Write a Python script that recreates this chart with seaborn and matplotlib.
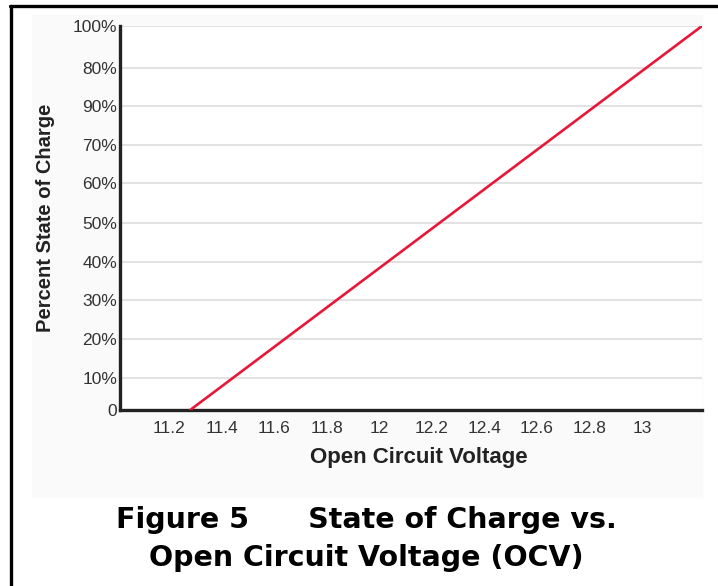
import pandas as pd
import matplotlib.pyplot as plt
import seaborn as sns
from matplotlib.lines import Line2D
from matplotlib.patches import Rectangle

# data
voltage = [11.28, 13.228]
soc = [0, 100]

x_ticks = [11.2, 11.4, 11.6, 11.8, 12.0, 12.2, 12.4, 12.6, 12.8, 13.0]
x_tick_labels = ["11.2", "11.4", "11.6", "11.8", "12", "12.2", "12.4", "12.6", "12.8", "13"]

# the original axis puts its gridlines slightly off a uniform 10% step
y_ticks = [0, 8.3, 18.5, 28.6, 38.5, 48.6, 59.1, 69.0, 79.1, 89.1, 100]
y_tick_labels = ["0", "10%", "20%", "30%", "40%", "50%", "60%", "70%", "90%", "80%", "100%"]

df = pd.DataFrame({"Open Circuit Voltage": voltage, "Percent State of Charge": soc})

sns.set_style("white")
plt.rcParams["font.family"] = ["Liberation Sans", "DejaVu Sans"]

W, H = 718, 586
fig = plt.figure(figsize=(W / 100, H / 100), dpi=100)

# light panel behind the chart and the black frame lines
fig.patches.append(Rectangle((32 / W, 1 - 497 / H), (702 - 32) / W, (497 - 15) / H,
                             transform=fig.transFigure, color="#fafafa", zorder=-5))
fig.lines.append(Line2D([10 / W, 1], [1 - 6 / H, 1 - 6 / H], transform=fig.transFigure,
                        color="black", lw=2.4))
fig.lines.append(Line2D([11 / W, 11 / W], [0, 1 - 6 / H], transform=fig.transFigure,
                        color="black", lw=2.4))

ax = fig.add_axes([120 / W, 1 - 410 / H, (702 - 120) / W, (410 - 26) / H])
ax.set_zorder(2)
ax.set_facecolor("white")

sns.lineplot(data=df, x="Open Circuit Voltage", y="Percent State of Charge",
             color="#e8173a", linewidth=1.9, ax=ax, zorder=3)

ax.set_xlim(11.013, 13.228)
ax.set_ylim(0, 100)

ax.set_xticks(x_ticks)
ax.set_xticklabels(x_tick_labels)
ax.set_yticks(y_ticks)
ax.set_yticklabels(y_tick_labels)
ax.tick_params(axis="both", length=0, labelsize=12.5, labelcolor="#333333")
ax.tick_params(axis="x", pad=8)
ax.tick_params(axis="y", pad=2)

ax.grid(axis="y", color="#e2e2e2", linewidth=1.4)
ax.grid(axis="x", visible=False)

for side in ["top", "right"]:
    ax.spines[side].set_visible(False)
for side in ["left", "bottom"]:
    ax.spines[side].set_color("#222222")
    ax.spines[side].set_linewidth(2.4)

narrow = ["Liberation Sans Narrow", "Liberation Sans", "DejaVu Sans"]
ax.set_xlabel("Open Circuit Voltage", fontsize=16, fontweight="bold", color="#222222",
              family=narrow)
ax.set_ylabel("Percent State of Charge", fontsize=14.5, fontweight="bold", color="#222222",
              family=narrow)
ax.xaxis.set_label_coords((419 - 120) / 582, -(458 - 410) / 384)
ax.yaxis.set_label_coords((45 - 120) / 582, 0.5)
ax.xaxis.label.set_va("center")
ax.yaxis.label.set_va("center")

fig.text(366 / W, 1 - 520 / H, "Figure 5      State of Charge vs.", ha="center", va="center",
         fontsize=20.5, fontweight="heavy", color="black", family=["DejaVu Sans"])
fig.text(366 / W, 1 - 558 / H, "Open Circuit Voltage (OCV)", ha="center", va="center",
         fontsize=20.5, fontweight="heavy", color="black", family=["DejaVu Sans"])

fig.savefig("out.png", dpi=100)
plt.close(fig)
